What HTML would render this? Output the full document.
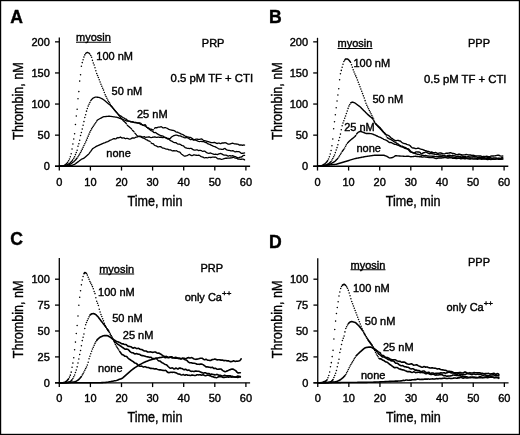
<!DOCTYPE html><html><head><meta charset="utf-8"><style>html,body{margin:0;padding:0;background:#fff;}svg{display:block;filter:grayscale(100%);}text{font-family:"Liberation Sans", sans-serif;fill:#000;stroke:#000;stroke-width:0.4px;}</style></head><body>
<svg width="520" height="435" viewBox="0 0 520 435">
<rect x="0" y="0" width="520" height="435" fill="#fff"/>
<rect x="0.6" y="0.6" width="518.8" height="433.8" fill="none" stroke="#000" stroke-width="1.2"/>
<g stroke="#000" stroke-width="1.3" fill="none">
<line x1="59.3" y1="37.5" x2="59.3" y2="166.25"/>
<line x1="55" y1="166.25" x2="250.1" y2="166.25"/>
<line x1="55" y1="166.25" x2="59.3" y2="166.25"/>
<text x="49.8" y="170.15" font-size="11" text-anchor="end" font-weight="normal" >0</text>
<line x1="55" y1="135.15" x2="59.3" y2="135.15"/>
<text x="49.8" y="139.05" font-size="11" text-anchor="end" font-weight="normal" >50</text>
<line x1="55" y1="104.05" x2="59.3" y2="104.05"/>
<text x="49.8" y="107.95" font-size="11" text-anchor="end" font-weight="normal" >100</text>
<line x1="55" y1="72.95" x2="59.3" y2="72.95"/>
<text x="49.8" y="76.85" font-size="11" text-anchor="end" font-weight="normal" >150</text>
<line x1="55" y1="41.85" x2="59.3" y2="41.85"/>
<text x="49.8" y="45.75" font-size="11" text-anchor="end" font-weight="normal" >200</text>
<line x1="59.3" y1="166.25" x2="59.3" y2="170.55"/>
<text x="59.3" y="185.65" font-size="11" text-anchor="middle" font-weight="normal" >0</text>
<line x1="90.4" y1="166.25" x2="90.4" y2="170.55"/>
<text x="90.4" y="185.65" font-size="11" text-anchor="middle" font-weight="normal" >10</text>
<line x1="121.5" y1="166.25" x2="121.5" y2="170.55"/>
<text x="121.5" y="185.65" font-size="11" text-anchor="middle" font-weight="normal" >20</text>
<line x1="152.6" y1="166.25" x2="152.6" y2="170.55"/>
<text x="152.6" y="185.65" font-size="11" text-anchor="middle" font-weight="normal" >30</text>
<line x1="183.7" y1="166.25" x2="183.7" y2="170.55"/>
<text x="183.7" y="185.65" font-size="11" text-anchor="middle" font-weight="normal" >40</text>
<line x1="214.8" y1="166.25" x2="214.8" y2="170.55"/>
<text x="214.8" y="185.65" font-size="11" text-anchor="middle" font-weight="normal" >50</text>
<line x1="245.9" y1="166.25" x2="245.9" y2="170.55"/>
<text x="245.9" y="185.65" font-size="11" text-anchor="middle" font-weight="normal" >60</text>
<text x="127.6" y="205.55" font-size="14.6" text-anchor="start" font-weight="normal" textLength="54.8" lengthAdjust="spacingAndGlyphs">Time, min</text>
<line x1="317.5" y1="37.8" x2="317.5" y2="166.25"/>
<line x1="313.2" y1="166.25" x2="508.3" y2="166.25"/>
<line x1="313.2" y1="166.25" x2="317.5" y2="166.25"/>
<text x="308" y="170.15" font-size="11" text-anchor="end" font-weight="normal" >0</text>
<line x1="313.2" y1="135.15" x2="317.5" y2="135.15"/>
<text x="308" y="139.05" font-size="11" text-anchor="end" font-weight="normal" >50</text>
<line x1="313.2" y1="104.05" x2="317.5" y2="104.05"/>
<text x="308" y="107.95" font-size="11" text-anchor="end" font-weight="normal" >100</text>
<line x1="313.2" y1="72.95" x2="317.5" y2="72.95"/>
<text x="308" y="76.85" font-size="11" text-anchor="end" font-weight="normal" >150</text>
<line x1="313.2" y1="41.85" x2="317.5" y2="41.85"/>
<text x="308" y="45.75" font-size="11" text-anchor="end" font-weight="normal" >200</text>
<line x1="317.5" y1="166.25" x2="317.5" y2="170.55"/>
<text x="317.5" y="185.65" font-size="11" text-anchor="middle" font-weight="normal" >0</text>
<line x1="348.6" y1="166.25" x2="348.6" y2="170.55"/>
<text x="348.6" y="185.65" font-size="11" text-anchor="middle" font-weight="normal" >10</text>
<line x1="379.7" y1="166.25" x2="379.7" y2="170.55"/>
<text x="379.7" y="185.65" font-size="11" text-anchor="middle" font-weight="normal" >20</text>
<line x1="410.8" y1="166.25" x2="410.8" y2="170.55"/>
<text x="410.8" y="185.65" font-size="11" text-anchor="middle" font-weight="normal" >30</text>
<line x1="441.9" y1="166.25" x2="441.9" y2="170.55"/>
<text x="441.9" y="185.65" font-size="11" text-anchor="middle" font-weight="normal" >40</text>
<line x1="473" y1="166.25" x2="473" y2="170.55"/>
<text x="473" y="185.65" font-size="11" text-anchor="middle" font-weight="normal" >50</text>
<line x1="504.1" y1="166.25" x2="504.1" y2="170.55"/>
<text x="504.1" y="185.65" font-size="11" text-anchor="middle" font-weight="normal" >60</text>
<text x="385.8" y="205.55" font-size="14.6" text-anchor="start" font-weight="normal" textLength="54.8" lengthAdjust="spacingAndGlyphs">Time, min</text>
<line x1="59.3" y1="258.1" x2="59.3" y2="382.8"/>
<line x1="55" y1="382.8" x2="250.1" y2="382.8"/>
<line x1="55" y1="382.8" x2="59.3" y2="382.8"/>
<text x="49.8" y="386.7" font-size="11" text-anchor="end" font-weight="normal" >0</text>
<line x1="55" y1="356.9" x2="59.3" y2="356.9"/>
<text x="49.8" y="360.8" font-size="11" text-anchor="end" font-weight="normal" >25</text>
<line x1="55" y1="331" x2="59.3" y2="331"/>
<text x="49.8" y="334.9" font-size="11" text-anchor="end" font-weight="normal" >50</text>
<line x1="55" y1="305.1" x2="59.3" y2="305.1"/>
<text x="49.8" y="309" font-size="11" text-anchor="end" font-weight="normal" >75</text>
<line x1="55" y1="279.2" x2="59.3" y2="279.2"/>
<text x="49.8" y="283.1" font-size="11" text-anchor="end" font-weight="normal" >100</text>
<line x1="59.3" y1="382.8" x2="59.3" y2="387.1"/>
<text x="59.3" y="402.2" font-size="11" text-anchor="middle" font-weight="normal" >0</text>
<line x1="90.4" y1="382.8" x2="90.4" y2="387.1"/>
<text x="90.4" y="402.2" font-size="11" text-anchor="middle" font-weight="normal" >10</text>
<line x1="121.5" y1="382.8" x2="121.5" y2="387.1"/>
<text x="121.5" y="402.2" font-size="11" text-anchor="middle" font-weight="normal" >20</text>
<line x1="152.6" y1="382.8" x2="152.6" y2="387.1"/>
<text x="152.6" y="402.2" font-size="11" text-anchor="middle" font-weight="normal" >30</text>
<line x1="183.7" y1="382.8" x2="183.7" y2="387.1"/>
<text x="183.7" y="402.2" font-size="11" text-anchor="middle" font-weight="normal" >40</text>
<line x1="214.8" y1="382.8" x2="214.8" y2="387.1"/>
<text x="214.8" y="402.2" font-size="11" text-anchor="middle" font-weight="normal" >50</text>
<line x1="245.9" y1="382.8" x2="245.9" y2="387.1"/>
<text x="245.9" y="402.2" font-size="11" text-anchor="middle" font-weight="normal" >60</text>
<text x="127.6" y="422.1" font-size="14.6" text-anchor="start" font-weight="normal" textLength="54.8" lengthAdjust="spacingAndGlyphs">Time, min</text>
<line x1="317.75" y1="258.2" x2="317.75" y2="382.8"/>
<line x1="313.45" y1="382.8" x2="508.55" y2="382.8"/>
<line x1="313.45" y1="382.8" x2="317.75" y2="382.8"/>
<text x="308.25" y="386.7" font-size="11" text-anchor="end" font-weight="normal" >0</text>
<line x1="313.45" y1="356.9" x2="317.75" y2="356.9"/>
<text x="308.25" y="360.8" font-size="11" text-anchor="end" font-weight="normal" >25</text>
<line x1="313.45" y1="331" x2="317.75" y2="331"/>
<text x="308.25" y="334.9" font-size="11" text-anchor="end" font-weight="normal" >50</text>
<line x1="313.45" y1="305.1" x2="317.75" y2="305.1"/>
<text x="308.25" y="309" font-size="11" text-anchor="end" font-weight="normal" >75</text>
<line x1="313.45" y1="279.2" x2="317.75" y2="279.2"/>
<text x="308.25" y="283.1" font-size="11" text-anchor="end" font-weight="normal" >100</text>
<line x1="317.75" y1="382.8" x2="317.75" y2="387.1"/>
<text x="317.75" y="402.2" font-size="11" text-anchor="middle" font-weight="normal" >0</text>
<line x1="348.85" y1="382.8" x2="348.85" y2="387.1"/>
<text x="348.85" y="402.2" font-size="11" text-anchor="middle" font-weight="normal" >10</text>
<line x1="379.95" y1="382.8" x2="379.95" y2="387.1"/>
<text x="379.95" y="402.2" font-size="11" text-anchor="middle" font-weight="normal" >20</text>
<line x1="411.05" y1="382.8" x2="411.05" y2="387.1"/>
<text x="411.05" y="402.2" font-size="11" text-anchor="middle" font-weight="normal" >30</text>
<line x1="442.15" y1="382.8" x2="442.15" y2="387.1"/>
<text x="442.15" y="402.2" font-size="11" text-anchor="middle" font-weight="normal" >40</text>
<line x1="473.25" y1="382.8" x2="473.25" y2="387.1"/>
<text x="473.25" y="402.2" font-size="11" text-anchor="middle" font-weight="normal" >50</text>
<line x1="504.35" y1="382.8" x2="504.35" y2="387.1"/>
<text x="504.35" y="402.2" font-size="11" text-anchor="middle" font-weight="normal" >60</text>
<text x="386.05" y="422.1" font-size="14.6" text-anchor="start" font-weight="normal" textLength="54.8" lengthAdjust="spacingAndGlyphs">Time, min</text>
</g>
<g stroke="#000" stroke-width="1.65" stroke-linecap="round" fill="none">
<path d="M59.3 166.25 60.15 166.22 61 166.18 61.85 166.15 62.7 166.11 63.55 165.74 64.4 165.19 65.25 164.63 66.1 163.96 66.95 163.19 67.8 162.03M85.65 53.55 86.5 52.73 87.35 52.32 88.2 52.75 89.05 53.17 89.9 54.18M111.15 105.57 112 106.68 112.85 107.8 113.7 108.92 114.55 110.04 115.4 111.1 116.25 112.13 117.1 113.16 117.95 114.19 118.8 115.25 119.65 116.31 120.5 117.36 121.35 118.42 122.2 119.44 123.05 120.44 123.9 121.19 124.75 121.95 125.6 122.73 126.45 123.83M127.3 125.26 128.15 126.05 129 126.63 129.85 127.48 130.7 128.07 131.55 128.98M132.4 130.24 133.25 130.94 134.1 131.89M134.95 133.23 135.8 134.09 136.65 135.14 137.5 136.06 138.35 136.44 139.2 136.6 140.05 136.61 140.9 136.96 141.75 137.48 142.6 137.79 143.45 138.15 144.3 138.44 145.15 138.93 146 139.51 146.85 139.77 147.7 140.37 148.55 140.96 149.4 141.06 150.25 141.67M151.1 142.9 151.95 143.52 152.8 143.55 153.65 144.1 154.5 145.27 155.35 145.7 156.2 145.79 157.05 146.43 157.9 146.92 158.75 146.85 159.6 146.71 160.45 146.6 161.3 147.11 162.15 147.86 163 148.08 163.85 148.21 164.7 148.51 165.55 148.95 166.4 149.16 167.25 149.05 168.1 149.36 168.95 149.82 169.8 149.81 170.65 149.9 171.5 150.5 172.35 150.9 173.2 150.76 174.05 150.74 174.9 150.93 175.75 150.8 176.6 150.77 177.45 151.33 178.3 151.77 179.15 151.89 180 152.25 180.85 153.36 181.7 154.23 182.55 154.82 183.4 155.46 184.25 156.03 185.1 156.15 185.95 155.87 186.8 155.65 187.65 155.32 188.5 154.78 189.35 154.44 190.2 154.75 191.05 155.41 191.9 155.71 192.75 155.39 193.6 154.9 194.45 154.92 195.3 155.18 196.15 155.23 197 155.37 197.85 155.46 198.7 155.23 199.55 155.41 200.4 156.07 201.25 156.57 202.1 156.83 202.95 157.1 203.8 157.56 204.65 157.8 205.5 157.59 206.35 157.65 207.2 157.89 208.05 157.67 208.9 157.33 209.75 157.41 210.6 157.51 211.45 157.34 212.3 157.18 213.15 157.11 214 157.23 214.85 157.14 215.7 157.14 216.55 157.81 217.4 158.58 218.25 158.82 219.1 158.74 219.95 158.78 220.8 159.13 221.65 159.34 222.5 159.17 223.35 158.95 224.2 158.58 225.05 158.34 225.9 158.16 226.75 158.23 227.6 158.19 228.45 158.04 229.3 158.09 230.15 157.99 231 157.96 231.85 157.83 232.7 157.43 233.55 157.22 234.4 157.72 235.25 158.15 236.1 158.05 236.95 158.31 237.8 159.02 238.65 159.2 239.5 159.18 240.35 159.31 241.2 159.23 242.05 159.15 242.9 159.09 243.75 159.36 244.6 159.9" stroke-width="1.3" stroke-linejoin="round"/>
<path d="M68.65 160.7h0M69.5 159h0M70.35 156.69h0M71.2 153.76h0M72.05 148.93h0M72.9 144.07h0M73.75 139.08h0M74.6 133.76h0M75.45 124.45h0M76.3 116h0M77.15 109.29h0M78 98.78h0M78.85 91.6h0M79.7 81.1h0M80.55 74.68h0M81.4 66.23h0M82.25 62.6h0M83.1 59.75h0M83.95 57.12h0M84.8 54.89h0M90.75 55.43h0M91.6 57.32h0M92.45 60.36h0M93.3 62.94h0M94.15 65.02h0M95 67.82h0M95.85 70.84h0M96.7 73.56h0M97.55 75.53h0M98.4 77.5h0M99.25 79.8h0M100.1 82.09h0M100.95 84.16h0M101.8 86.19h0M102.65 88.16h0M103.5 90.11h0M104.35 92.42h0M105.2 94.85h0M106.05 96.57h0M106.9 98.28h0M107.75 100h0M108.6 101.47h0M109.45 102.84h0M110.3 104.21h0" stroke-width="1.55"/>
<path d="M59.3 166.25 60.15 166.22 61 166.2 61.85 166.17 62.7 166.14 63.55 166.11 64.4 165.92 65.25 165.55 66.1 165.18 66.95 164.8 67.8 164.43 68.65 163.93 69.5 163.37 70.35 162.65 71.2 161.8 72.05 160.85 72.9 159.66M90.75 100.7 91.6 99.63 92.45 98.6 93.3 98.02 94.15 97.63 95 97.23 95.85 97.04 96.7 97.15 97.55 97.26 98.4 97.37 99.25 97.48 100.1 97.84 100.95 98.25 101.8 98.67 102.65 99.08 103.5 99.67 104.35 100.37 105.2 101.08 106.05 101.79 106.9 102.5 107.75 103.21 108.6 103.92 109.45 104.62 110.3 105.33 111.15 106.23 112 107.18 112.85 108.13 113.7 109.08 114.55 110.04 115.4 110.99 116.25 111.95 117.1 112.91 117.95 113.88 118.8 114.7 119.65 115.28 120.5 115.82 121.35 116.33 122.2 116.95 123.05 117.51 123.9 117.93 124.75 118.45 125.6 118.94 126.45 119.33 127.3 120.14 128.15 120.82 129 121.2 129.85 121.44 130.7 121.52 131.55 121.8 132.4 121.77 133.25 121.82 134.1 122.53 134.95 122.73 135.8 122.32 136.65 122.58 137.5 123.17 138.35 123.18 139.2 123.01 140.05 122.98 140.9 123.38 141.75 124.29 142.6 125.11 143.45 125.28 144.3 124.84 145.15 124.64 146 125.76M146.85 127.18 147.7 128.19 148.55 128.7 149.4 129.23 150.25 130.02 151.1 130.6 151.95 130.97 152.8 131.44 153.65 132.3 154.5 132.65 155.35 132.45 156.2 132.92 157.05 133.66 157.9 134.11 158.75 134.67 159.6 135.08 160.45 135.48 161.3 135.77 162.15 135.79 163 136.05 163.85 136.68 164.7 137.48 165.55 137.86 166.4 138.13 167.25 138.77 168.1 139.03 168.95 139.17 169.8 139.93 170.65 140.73 171.5 141.03 172.35 141.41 173.2 142.09 174.05 142.54 174.9 142.59 175.75 142.64 176.6 143.15 177.45 143.82 178.3 144.14 179.15 144.16 180 144.24 180.85 144.74 181.7 145.43 182.55 145.62 183.4 145.79 184.25 146.68 185.1 147.53 185.95 147.85 186.8 148.18 187.65 148.35 188.5 148.41 189.35 148.57 190.2 148.47 191.05 148.43 191.9 148.8 192.75 149.4 193.6 149.97 194.45 150.1 195.3 150.03 196.15 149.94 197 149.85 197.85 150.21 198.7 150.54 199.55 150.41 200.4 150.38 201.25 150.64 202.1 151.01 202.95 151.27 203.8 151.14 204.65 151.16 205.5 151.73 206.35 152.42 207.2 152.82 208.05 153.12 208.9 153.33 209.75 153.05 210.6 152.95 211.45 153.45 212.3 153.76 213.15 153.98 214 154.35 214.85 154.3 215.7 154.12 216.55 154.43 217.4 154.6 218.25 154.19 219.1 153.81 219.95 153.56 220.8 153.52 221.65 153.86 222.5 154.34 223.35 154.95 224.2 155.19 225.05 155.14 225.9 155.07 226.75 155.36 227.6 155.93 228.45 156.13 229.3 155.71 230.15 155.71 231 156.05 231.85 155.85 232.7 155.69 233.55 156.04 234.4 156.47 235.25 156.62 236.1 156.95 236.95 157.45 237.8 157.79 238.65 157.83 239.5 157.46 240.35 157.23 241.2 157.09 242.05 156.69 242.9 155.76 243.75 155.38 244.6 155.44" stroke-width="1.3" stroke-linejoin="round"/>
<path d="M73.75 158.28h0M74.6 156.66h0M75.45 154.62h0M76.3 152.54h0M77.15 150.3h0M78 146.31h0M78.85 143.84h0M79.7 140.25h0M80.55 135.56h0M81.4 132.5h0M82.25 128.9h0M83.1 125.29h0M83.95 121.6h0M84.8 117.4h0M85.65 114.75h0M86.5 111.13h0M87.35 108.4h0M88.2 106.1h0M89.05 104.26h0M89.9 102.46h0" stroke-width="1.55"/>
<path d="M59.3 166.25 60.15 166.22 61 166.2 61.85 166.17 62.7 166.14 63.55 166.11 64.4 166 65.25 165.78 66.1 165.56 66.95 165.35 67.8 165.13 68.65 164.91 69.5 164.52 70.35 164.11 71.2 163.7 72.05 163.03 72.9 162.35 73.75 161.66 74.6 160.85 75.45 160.05 76.3 159.02 77.15 157.98M96.7 121.2 97.55 119.97 98.4 119.49 99.25 119.02 100.1 118.54 100.95 118.06 101.8 117.59 102.65 117.11 103.5 116.77 104.35 116.68 105.2 116.59 106.05 116.51 106.9 116.42 107.75 116.33 108.6 116.24 109.45 116.26 110.3 116.37 111.15 116.48 112 116.59 112.85 116.7 113.7 116.81 114.55 116.92 115.4 117.03 116.25 117.14 117.1 117.35 117.95 117.65 118.8 117.96 119.65 118.27 120.5 118.64 121.35 118.96 122.2 119.21 123.05 119.57 123.9 119.91 124.75 120.07 125.6 120.3 126.45 120.84 127.3 121.16 128.15 121.09 129 121.09 129.85 121.43 130.7 121.8 131.55 121.91 132.4 122.09 133.25 122.35 134.1 122.36 134.95 122.3 135.8 122.6 136.65 122.96 137.5 122.94 138.35 122.93 139.2 123.31 140.05 123.98 140.9 124.58 141.75 124.72 142.6 124.86 143.45 125.37 144.3 125.77 145.15 125.88 146 126.55 146.85 127.43 147.7 127.61 148.55 127.88 149.4 128.59 150.25 129.14 151.1 129.25 151.95 129.46 152.8 129.9 153.65 129.83M154.5 128.36 155.35 127.59 156.2 127.77 157.05 127.74 157.9 127.19 158.75 127.03 159.6 127.11 160.45 126.83 161.3 126.72 162.15 127.32 163 127.97 163.85 127.93 164.7 127.55 165.55 127.58 166.4 128.01 167.25 128.31 168.1 128.84 168.95 129.33 169.8 129.66 170.65 129.83 171.5 130.06 172.35 130.24 173.2 130.4 174.05 130.67 174.9 131.07 175.75 131.81 176.6 132.05 177.45 132.15 178.3 132.67 179.15 132.98 180 133.37 180.85 133.89 181.7 134.13 182.55 134.48 183.4 134.88 184.25 135.43 185.1 136.03 185.95 136.34 186.8 136.71 187.65 136.86 188.5 137.05 189.35 137.34 190.2 137.42 191.05 137.71 191.9 138.25 192.75 138.88 193.6 139.61 194.45 139.74 195.3 139.3 196.15 139.04 197 139.12 197.85 139.24 198.7 139.28 199.55 139.34 200.4 139.21 201.25 138.96 202.1 139.11 202.95 139.9 203.8 140.58 204.65 140.7 205.5 140.87 206.35 141.08 207.2 141.38 208.05 141.68 208.9 141.76 209.75 142.09 210.6 142.49 211.45 142.59 212.3 142.59 213.15 142.61 214 142.49 214.85 142.48 215.7 142.92 216.55 143.44 217.4 143.52 218.25 143.13 219.1 143.19 219.95 143.48 220.8 143.57 221.65 143.13 222.5 142.89 223.35 143.01 224.2 142.89 225.05 142.65 225.9 142.78 226.75 143.33 227.6 143.93 228.45 144.23 229.3 144.08 230.15 144.01 231 143.58 231.85 143.33 232.7 143.2 233.55 143.51 234.4 143.95 235.25 143.96 236.1 143.99 236.95 144.18 237.8 144.14 238.65 144.58 239.5 145.16 240.35 145 241.2 144.92 242.05 145.27 242.9 145.25 243.75 144.96 244.6 145.04" stroke-width="1.3" stroke-linejoin="round"/>
<path d="M78 156.69h0M78.85 155.35h0M79.7 153.94h0M80.55 152.48h0M81.4 150.88h0M82.25 149.13h0M83.1 147.37h0M83.95 145.57h0M84.8 143.77h0M85.65 141.97h0M86.5 140.13h0M87.35 138.13h0M88.2 136.13h0M89.05 134.13h0M89.9 132.14h0M90.75 130.49h0M91.6 128.89h0M92.45 127.58h0M93.3 126.3h0M94.15 125.03h0M95 123.75h0M95.85 122.48h0" stroke-width="1.55"/>
<path d="M59.3 166.25 60.15 166.23 61 166.21 61.85 166.19 62.7 166.17 63.55 166.15 64.4 166.14 65.25 166.12 66.1 166.09 66.95 165.97 67.8 165.85 68.65 165.73 69.5 165.61 70.35 165.49 71.2 165.37 72.05 165.25 72.9 165.01 73.75 164.69 74.6 164.38 75.45 163.79 76.3 163.12 77.15 162.48 78 161.86 78.85 161.25 79.7 160.6 80.55 159.93 81.4 159.26 82.25 158.86 83.1 158.54 83.95 158.22 84.8 157.5 85.65 156.75 86.5 156 87.35 155.28 88.2 154.56 89.05 153.56 89.9 152.41 90.75 151.27 91.6 150.07 92.45 148.87 93.3 148.29 94.15 147.75 95 147.21 95.85 146.66 96.7 146.16 97.55 145.79 98.4 145.41 99.25 145.04 100.1 144.67 100.95 144.29 101.8 143.92 102.65 143.56 103.5 143.23 104.35 142.9 105.2 142.55 106.05 142.17 106.9 141.86 107.75 141.57 108.6 141.13 109.45 140.64 110.3 140.19 111.15 139.91 112 139.51 112.85 139 113.7 138.71 114.55 138.73 115.4 139 116.25 138.74 117.1 137.81 117.95 137.52 118.8 137.79 119.65 137.46 120.5 136.99 121.35 137.65 122.2 138.13 123.05 137.92 123.9 137.9 124.75 138.42 125.6 138.73 126.45 138.48 127.3 138.32 128.15 138.6 129 139.03 129.85 139.15 130.7 138.83 131.55 138.37 132.4 137.91 133.25 137.98 134.1 138.2 134.95 137.69 135.8 137.21 136.65 137.13 137.5 136.86 138.35 136.41 139.2 136.22 140.05 136.25 140.9 136.37 141.75 136.71 142.6 137.03 143.45 136.77 144.3 136.65 145.15 137.1 146 137.27 146.85 137.06 147.7 137.03 148.55 136.98 149.4 136.99 150.25 137.27 151.1 137.52 151.95 137.4 152.8 137.25 153.65 137.22 154.5 136.96 155.35 137.02 156.2 137.37 157.05 137.36 157.9 137.17 158.75 137.14 159.6 137.34 160.45 137.24 161.3 137.21 162.15 137.59 163 137.54 163.85 137.31 164.7 137.31 165.55 137.39 166.4 137.84 167.25 138.29 168.1 138.3 168.95 138.61 169.8 138.92 170.65 137.98 171.5 137.03 172.35 136.46 173.2 135.97 174.05 135.61 174.9 135.34 175.75 135.17 176.6 135.15 177.45 135.45 178.3 135.75 179.15 135.79 180 135.87 180.85 136.15 181.7 136.59 182.55 136.91 183.4 137.15 184.25 137.67 185.1 137.89 185.95 137.7 186.8 137.62 187.65 137.9 188.5 138.28 189.35 138.87 190.2 139.58 191.05 139.54 191.9 139.23 192.75 139.71 193.6 140.21 194.45 139.94 195.3 139.88 196.15 140.35 197 140.72 197.85 141.14 198.7 141.44 199.55 141.57 200.4 141.46 201.25 141.31 202.1 141.61 202.95 141.68 203.8 141.67 204.65 142.16 205.5 142.5 206.35 142.61 207.2 143.24 208.05 143.95 208.9 144.2 209.75 144.33 210.6 144.82 211.45 145.39 212.3 145.63 213.15 146.06 214 146.33 214.85 146.57 215.7 147.11 216.55 147.46 217.4 148.02 218.25 148.54 219.1 148.87 219.95 149.05 220.8 149.08 221.65 149.31 222.5 149.37 223.35 149.27 224.2 148.59 225.05 148.48 225.9 149.42 226.75 149.86 227.6 150.07 228.45 150.31 229.3 150.43 230.15 150.59 231 150.84 231.85 150.95 232.7 150.75 233.55 150.95 234.4 151.51 235.25 151.76 236.1 151.51 236.95 151.58 237.8 151.58 238.65 151.69 239.5 151.83 240.35 152.61 241.2 153.34 242.05 153.38 242.9 153.24 243.75 153.2 244.6 152.95" stroke-width="1.3" stroke-linejoin="round"/>
<path d="M317.5 166.25 318.35 166.21 319.2 166.18 320.05 166.14 320.9 166.1 321.75 165.68 322.6 165.2 323.45 164.72 324.3 164.22 325.15 163.51 326 162.8 326.85 161.78 327.7 160.6M344.7 60.17 345.55 59.02 346.4 58.84 347.25 58.96 348.1 59.43 348.95 60.07 349.8 61.22 350.65 62.36M375.3 123.28 376.15 124.08 377 124.89 377.85 125.69 378.7 126.49 379.55 127.29 380.4 128.12 381.25 129.16 382.1 130.21 382.95 131.25 383.8 132.22 384.65 133.1 385.5 133.97 386.35 134.53 387.2 134.96 388.05 135.29 388.9 135.76 389.75 136.58 390.6 137.44 391.45 138.09 392.3 138.55 393.15 139.27 394 139.86 394.85 140.26 395.7 140.75 396.55 140.57 397.4 140.35 398.25 140.42 399.1 140.73 399.95 140.96 400.8 141.41 401.65 142.27 402.5 142.82 403.35 143.18 404.2 143.5 405.05 143.62 405.9 143.84 406.75 144.29 407.6 144.63 408.45 144.81 409.3 145.06 410.15 145.7 411 146.78 411.85 147.56 412.7 147.99 413.55 148.04 414.4 148.15 415.25 148.49 416.1 148.61 416.95 148.4 417.8 148.1 418.65 148.19 419.5 148.61 420.35 148.93 421.2 149.22 422.05 149.36 422.9 149.56 423.75 150.01 424.6 150.4 425.45 150.58 426.3 150.82 427.15 151.23 428 151.5 428.85 151.55 429.7 151.97 430.55 152.21 431.4 152.06 432.25 152.23 433.1 152.58 433.95 152.73 434.8 152.62 435.65 152.5 436.5 152.84 437.35 153.38 438.2 153.46 439.05 153.15 439.9 153 440.75 153.05 441.6 153.22 442.45 153.45 443.3 153.65 444.15 153.82 445 153.65 445.85 153.28 446.7 153.23 447.55 153.22 448.4 153.12 449.25 152.94 450.1 152.78 450.95 152.78 451.8 153.15 452.65 153.53 453.5 153.56 454.35 153.58 455.2 154.04 456.05 154.48 456.9 154.64 457.75 154.49 458.6 154.24 459.45 154.25 460.3 154.44 461.15 154.65 462 154.76 462.85 154.85 463.7 154.87 464.55 154.89 465.4 154.71 466.25 154.54 467.1 154.64 467.95 154.87 468.8 155.02 469.65 154.98 470.5 155.03 471.35 155.32 472.2 155.4 473.05 155.25 473.9 155.35 474.75 155.6 475.6 155.86 476.45 155.96 477.3 155.84 478.15 155.91 479 156.01 479.85 155.92 480.7 155.94 481.55 156.38 482.4 156.6 483.25 156.35 484.1 156.43 484.95 156.65 485.8 156.39 486.65 156.19 487.5 156.33 488.35 156.67 489.2 156.68 490.05 156.45 490.9 156.19 491.75 155.99 492.6 156.04 493.45 156.04 494.3 155.9 495.15 155.76 496 155.59 496.85 155.35 497.7 155.22 498.55 155.25 499.4 155.49 500.25 155.85 501.1 156.13 501.95 156.13 502.8 156.05" stroke-width="1.4" stroke-linejoin="round"/>
<path d="M328.55 158.9h0M329.4 156.72h0M330.25 154.09h0M331.1 150.49h0M331.95 145.7h0M332.8 138.9h0M333.65 128.77h0M334.5 121.78h0M335.35 114.79h0M336.2 107.81h0M337.05 100.91h0M337.9 95.08h0M338.75 88.65h0M339.6 79.67h0M340.45 73.65h0M341.3 70.38h0M342.15 67.25h0M343 64.26h0M343.85 61.42h0M351.5 64.75h0M352.35 67.3h0M353.2 69.85h0M354.05 71.9h0M354.9 73.92h0M355.75 75.89h0M356.6 77.83h0M357.45 79.93h0M358.3 82.17h0M359.15 84.43h0M360 86.72h0M360.85 89.02h0M361.7 91.32h0M362.55 93.61h0M363.4 95.86h0M364.25 98.09h0M365.1 100.64h0M365.95 103.31h0M366.8 105.34h0M367.65 107.03h0M368.5 108.71h0M369.35 110.4h0M370.2 112.11h0M371.05 113.83h0M371.9 115.54h0M372.75 117.25h0M373.6 118.95h0M374.45 121.35h0" stroke-width="1.55"/>
<path d="M317.5 166.25 318.35 166.22 319.2 166.19 320.05 166.16 320.9 166.14 321.75 166.11 322.6 165.92 323.45 165.68 324.3 165.43 325.15 165.18 326 164.93 326.85 164.67 327.7 164.16 328.55 163.65 329.4 163.11 330.25 162.3 331.1 161.49M350.65 102.92 351.5 102.5 352.35 102.07 353.2 102.28 354.05 102.62 354.9 102.96 355.75 103.56 356.6 104.2 357.45 104.84 358.3 105.48 359.15 106.11 360 106.75 360.85 107.6 361.7 108.45 362.55 109.3 363.4 110.15 364.25 111 365.1 111.85 365.95 112.7 366.8 113.55 367.65 114.38 368.5 115.12 369.35 115.86 370.2 116.6 371.05 117.34 371.9 118.08 372.75 119.07M375.3 123.61 376.15 124.5 377 125.38 377.85 126.26 378.7 127.15 379.55 128.03 380.4 128.94 381.25 129.86 382.1 130.79 382.95 131.71 383.8 132.65 384.65 133.61 385.5 134.56M387.2 137.57 388.05 138.16 388.9 138.65 389.75 139.01 390.6 139.44 391.45 139.82 392.3 140.27 393.15 140.95 394 141.65 394.85 142.06 395.7 142.48 396.55 143.12 397.4 143.63 398.25 144.08 399.1 144.77 399.95 145.37 400.8 145.87 401.65 146.17 402.5 146.27 403.35 146.74 404.2 147.29 405.05 147.51 405.9 147.85 406.75 148.4 407.6 148.73 408.45 148.85 409.3 149.64 410.15 150.87 411 151.63 411.85 152.04 412.7 152.72 413.55 153.1 414.4 152.95 415.25 152.42 416.1 151.89 416.95 151.88 417.8 151.97 418.65 151.97 419.5 152.09 420.35 152.8 421.2 153.91 422.05 153.76 422.9 153.01 423.75 152.77 424.6 152.56 425.45 151.95 426.3 152.16 427.15 152.62 428 153.02 428.85 153.47 429.7 153.7 430.55 153.65 431.4 153.61 432.25 153.72 433.1 153.85 433.95 153.99 434.8 154.2 435.65 154.36 436.5 154.64 437.35 154.66 438.2 154.54 439.05 154.84 439.9 155.04 440.75 155.04 441.6 155.1 442.45 155.27 443.3 155.43 444.15 155.47 445 155.76 445.85 156.09 446.7 155.9 447.55 155.55 448.4 155.39 449.25 155.27 450.1 155.42 450.95 155.85 451.8 155.81 452.65 155.49 453.5 155.62 454.35 155.82 455.2 155.88 456.05 156.22 456.9 156.43 457.75 156.25 458.6 156.22 459.45 156.4 460.3 156.29 461.15 156.06 462 156.03 462.85 156.23 463.7 156.54 464.55 156.65 465.4 156.74 466.25 156.96 467.1 156.9 467.95 156.58 468.8 156.66 469.65 157.02 470.5 157.02 471.35 156.88 472.2 156.84 473.05 156.67 473.9 156.53 474.75 156.59 475.6 156.75 476.45 156.89 477.3 157.2 478.15 157.35 479 157.16 479.85 157.29 480.7 157.56 481.55 157.51 482.4 157.51 483.25 157.45 484.1 157.39 484.95 157.69 485.8 157.89 486.65 157.93 487.5 157.8 488.35 157.41 489.2 157.25 490.05 157.44 490.9 157.85 491.75 158.24 492.6 158.25 493.45 158.01 494.3 158.02 495.15 158.03 496 158.01 496.85 158.26 497.7 158.37 498.55 158.29 499.4 158.3 500.25 158.25 501.1 158.03 501.95 157.77 502.8 157.65" stroke-width="1.4" stroke-linejoin="round"/>
<path d="M331.95 160.01h0M332.8 158.42h0M333.65 156.79h0M334.5 154.9h0M335.35 152.62h0M336.2 150h0M337.05 147.62h0M337.9 144.71h0M338.75 140.43h0M339.6 137.54h0M340.45 134.12h0M341.3 129.83h0M342.15 125.81h0M343 123.04h0M343.85 120.66h0M344.7 118.28h0M345.55 115.9h0M346.4 113.42h0M347.25 110.9h0M348.1 108.38h0M348.95 106.1h0M349.8 104.4h0M373.6 120.67h0M374.45 122.27h0M386.35 135.96h0" stroke-width="1.55"/>
<path d="M317.5 166.25 318.35 166.23 319.2 166.2 320.05 166.18 320.9 166.16 321.75 166.13 322.6 166.11 323.45 165.99 324.3 165.8 325.15 165.6 326 165.4 326.85 165.2 327.7 165 328.55 164.8 329.4 164.49 330.25 164.05 331.1 163.61 331.95 163.17 332.8 162.66 333.65 162.15 334.5 161.64 335.35 160.93 336.2 160.06 337.05 159.18 337.9 158.25M342.15 151.48 343 150.37 343.85 149.28M347.25 143.35 348.1 142.4 348.95 141.55 349.8 140.7 350.65 140 351.5 139.31 352.35 138.62 353.2 137.93 354.05 137.22 354.9 136.5 355.75 135.54M356.6 133.98 357.45 133.05 358.3 132.2 359.15 131.85 360 131.5 360.85 131.43 361.7 131.73 362.55 132.04 363.4 132.37 364.25 132.74 365.1 133.11 365.95 133.48 366.8 133.52 367.65 133.53 368.5 133.55 369.35 133.56 370.2 133.58 371.05 133.6 371.9 133.84 372.75 134.16 373.6 134.48 374.45 134.79 375.3 135.15 376.15 135.58 377 136 377.85 136.43 378.7 136.78 379.55 137.11 380.4 137.47 381.25 137.86 382.1 138.26 382.95 138.74 383.8 139.31 384.65 139.66 385.5 139.86 386.35 140.27 387.2 140.81 388.05 141.41 388.9 142.2 389.75 142.62 390.6 142.5 391.45 142.69 392.3 143.15 393.15 143.52 394 143.99 394.85 144.35 395.7 144.39 396.55 144.71 397.4 145.17 398.25 145.3 399.1 145.56 399.95 146.12 400.8 146.56 401.65 146.89 402.5 147.1 403.35 147.35 404.2 147.87 405.05 148.37 405.9 148.62 406.75 148.77 407.6 149.16 408.45 149.79 409.3 150.82 410.15 151.79 411 152.11 411.85 152.38 412.7 152.5 413.55 152.82 414.4 153.14 415.25 153.53 416.1 153.85 416.95 154.05 417.8 154.3 418.65 154.38 419.5 154.64 420.35 154.93 421.2 155.09 422.05 155.3 422.9 155.43 423.75 155.56 424.6 155.59 425.45 155.44 426.3 155.66 427.15 155.91 428 155.95 428.85 156.09 429.7 156.14 430.55 156.16 431.4 156.17 432.25 156.26 433.1 156.31 433.95 156.29 434.8 156.49 435.65 156.6 436.5 156.62 437.35 156.6 438.2 156.55 439.05 156.47 439.9 156.51 440.75 156.55 441.6 156.52 442.45 156.79 443.3 156.95 444.15 156.85 445 156.92 445.85 156.96 446.7 156.84 447.55 156.68 448.4 156.65 449.25 156.71 450.1 156.93 450.95 157.17 451.8 157.05 452.65 156.94 453.5 157.14 454.35 157.33 455.2 157.31 456.05 157.2 456.9 157.1 457.75 157.01 458.6 156.98 459.45 157.06 460.3 157.35 461.15 157.65 462 157.54 462.85 157.35 463.7 157.39 464.55 157.47 465.4 157.64 466.25 157.86 467.1 157.94 467.95 157.93 468.8 157.96 469.65 158.04 470.5 158.24 471.35 158.12 472.2 157.93 473.05 158.09 473.9 158.07 474.75 157.94 475.6 158.09 476.45 158.26 477.3 158.25 478.15 158.36 479 158.47 479.85 158.47 480.7 158.3 481.55 158.33 482.4 158.71 483.25 158.68 484.1 158.57 484.95 158.91 485.8 158.92 486.65 158.44 487.5 158.32 488.35 158.5 489.2 158.6 490.05 158.75 490.9 158.87 491.75 158.91 492.6 158.98 493.45 159.08 494.3 159.11 495.15 158.99 496 158.83 496.85 158.61 497.7 158.41 498.55 158.55 499.4 158.8 500.25 158.71 501.1 158.61 501.95 158.7 502.8 158.85" stroke-width="1.4" stroke-linejoin="round"/>
<path d="M338.75 156.97h0M339.6 155.7h0M340.45 154.34h0M341.3 152.91h0M344.7 147.92h0M345.55 146.28h0M346.4 144.77h0" stroke-width="1.55"/>
<path d="M317.5 166.25 318.35 166.15 319.2 166.04 320.05 165.94 320.9 165.83 321.75 165.73 322.6 165.62 323.45 165.54 324.3 165.45 325.15 165.37 326 165.29 326.85 165.21 327.7 165.12 328.55 165.04 329.4 164.96 330.25 164.88 331.1 164.79 331.95 164.71 332.8 164.63 333.65 164.55 334.5 164.46 335.35 164.38 336.2 164.3 337.05 164.04 337.9 163.79 338.75 163.53 339.6 163.27 340.45 163.02 341.3 162.76 342.15 162.5 343 162.25 343.85 161.99 344.7 161.73 345.55 161.48 346.4 161.22 347.25 160.97 348.1 160.71 348.95 160.46 349.8 160.2 350.65 159.95 351.5 159.7 352.35 159.44 353.2 159.19 354.05 158.93 354.9 158.68 355.75 158.45 356.6 158.28 357.45 158.11 358.3 157.95 359.15 157.78 360 157.61 360.85 157.44 361.7 157.27 362.55 157.1 363.4 156.94 364.25 156.77 365.1 156.6 365.95 156.48 366.8 156.35 367.65 156.23 368.5 156.1 369.35 155.98 370.2 155.86 371.05 155.73 371.9 155.61 372.75 155.48 373.6 155.36 374.45 155.24 375.3 155.22 376.15 155.24 377 155.27 377.85 155.3 378.7 155.3 379.55 155.3 380.4 155.3 381.25 155.3 382.1 155.3 382.95 155.3 383.8 155.3 384.65 155.48 385.5 155.82 386.35 156.16 387.2 156.5 388.05 157.05 388.9 157.61 389.75 157.97 390.6 157.86 391.45 157.75 392.3 157.64 393.15 157.26 394 156.74 394.85 156.22 395.7 155.7 396.55 155.76 397.4 155.83 398.25 155.89 399.1 155.96 399.95 156.02 400.8 156.1 401.65 156.17 402.5 156.16 403.35 156.2 404.2 156.3 405.05 156.33 405.9 156.38 406.75 156.3 407.6 156.22 408.45 156.28 409.3 156.38 410.15 156.6 411 156.7 411.85 156.66 412.7 156.61 413.55 156.45 414.4 156.36 415.25 156.27 416.1 156.32 416.95 156.45 417.8 156.48 418.65 156.68 419.5 156.81 420.35 156.74 421.2 156.76 422.05 157.03 422.9 157.09 423.75 156.89 424.6 156.85 425.45 157 426.3 157.09 427.15 157.18 428 157.37 428.85 157.48 429.7 157.46 430.55 157.44 431.4 157.51 432.25 157.6 433.1 157.63 433.95 157.87 434.8 158.21 435.65 158.44 436.5 158.49 437.35 158.3 438.2 158.04 439.05 157.91 439.9 157.97 440.75 158.07 441.6 158 442.45 157.88 443.3 157.73 444.15 157.59 445 157.51 445.85 157.59 446.7 157.8 447.55 157.95 448.4 157.96 449.25 157.8 450.1 157.68 450.95 157.7 451.8 157.95 452.65 158.27 453.5 158.32 454.35 158.24 455.2 158.33 456.05 158.53 456.9 158.55 457.75 158.33 458.6 158.23 459.45 158.4 460.3 158.69 461.15 158.71 462 158.51 462.85 158.45 463.7 158.58 464.55 158.77 465.4 158.8 466.25 158.65 467.1 158.58 467.95 158.73 468.8 158.94 469.65 159.02 470.5 158.98 471.35 158.88 472.2 158.9 473.05 159.05 473.9 159.09 474.75 158.93 475.6 158.9 476.45 159.15 477.3 159.26 478.15 159.09 479 158.91 479.85 158.87 480.7 159.08 481.55 159.24 482.4 159.14 483.25 159.1 484.1 159.12 484.95 159 485.8 158.98 486.65 159.22 487.5 159.48 488.35 159.43 489.2 159.29 490.05 159.4 490.9 159.48 491.75 159.36 492.6 159.2 493.45 159.18 494.3 159.33 495.15 159.31 496 159.09 496.85 158.94 497.7 159.05 498.55 159.32 499.4 159.4 500.25 159.26 501.1 159.23 501.95 159.16 502.8 158.95" stroke-width="1.4" stroke-linejoin="round"/>
<path d="M59.3 382.8 60.15 382.78 61 382.75 61.85 382.73 62.7 382.71 63.55 382.52 64.4 382.23 65.25 381.95 66.1 381.59 66.95 380.68 67.8 379.73 68.65 378.76M83.95 273.72 84.8 272.53 85.65 272.72 86.5 273.5M107.75 330.02 108.6 331.14M119.65 351.37 120.5 352.53 121.35 353.73 122.2 354.61 123.05 354.78 123.9 355.38 124.75 356.21 125.6 356.29 126.45 356.45 127.3 357.21 128.15 358.26 129 359.03 129.85 359.4 130.7 360.02 131.55 360.7 132.4 361.05 133.25 361.65 134.1 362.56 134.95 363.05 135.8 363.2 136.65 363.64 137.5 364.6 138.35 365.34 139.2 365.91 140.05 366.27 140.9 366.19 141.75 366.08 142.6 366.63 143.45 367.09 144.3 366.78 145.15 366.67 146 367.11 146.85 367.46 147.7 367.53 148.55 367.51 149.4 367.97 150.25 368.41 151.1 368.38 151.95 368.45 152.8 368.43 153.65 368.61 154.5 369.02 155.35 368.87 156.2 368.74 157.05 369.13 157.9 369.48 158.75 369.67 159.6 369.85 160.45 369.81 161.3 369.96 162.15 370.24 163 370.38 163.85 370.54 164.7 370.45 165.55 370.37 166.4 370.95 167.25 371.97 168.1 372.5 168.95 372.63 169.8 372.53 170.65 372.21 171.5 372.18 172.35 372.36 173.2 372.23 174.05 372.19 174.9 372.44 175.75 372.75 176.6 373.11 177.45 373.57 178.3 374.06 179.15 374.16 180 374.31 180.85 374.72 181.7 375.05 182.55 374.83 183.4 374.5 184.25 374.88 185.1 375.19 185.95 374.8 186.8 374.82 187.65 375.22 188.5 375.19 189.35 375.29 190.2 375.57 191.05 375.36 191.9 375.09 192.75 375.11 193.6 375.32 194.45 375.46 195.3 375.42 196.15 375.24 197 374.79 197.85 374.72 198.7 375 199.55 374.72 200.4 374.81 201.25 375.17 202.1 374.98 202.95 374.79 203.8 375.07 204.65 375.58 205.5 375.75 206.35 375.53 207.2 375.1 208.05 374.97 208.9 375.39 209.75 375.61 210.6 375.86 211.45 376.4 212.3 376.63 213.15 376.83 214 377.19 214.85 377.37 215.7 377.56 216.55 377.72 217.4 377.37 218.25 376.85 219.1 376.68 219.95 376.75 220.8 376.7 221.65 376.76 222.5 377.18 223.35 377.49 224.2 377.36 225.05 377.26 225.9 377.25 226.75 376.94 227.6 376.89 228.45 377.13 229.3 377 230.15 376.73 231 376.94 231.85 377.13 232.7 377.01 233.55 376.87 234.4 376.89 235.25 377.29 236.1 377.29 236.95 377.14 237.8 377.49 238.65 377.29 239.5 376.63 240.35 376.46" stroke-width="1.6" stroke-linejoin="round"/>
<path d="M69.5 377.1h0M70.35 375.14h0M71.2 372.13h0M72.05 367.28h0M72.9 363.1h0M73.75 357.83h0M74.6 349.7h0M75.45 342.1h0M76.3 333.5h0M77.15 325.51h0M78 316h0M78.85 305.17h0M79.7 297.2h0M80.55 290.68h0M81.4 284.86h0M82.25 280.08h0M83.1 276.5h0M87.35 275.12h0M88.2 277.25h0M89.05 279.35h0M89.9 281.4h0M90.75 283.1h0M91.6 284.8h0M92.45 286.61h0M93.3 288.71h0M94.15 291.45h0M95 293.62h0M95.85 297.74h0M96.7 301.26h0M97.55 303.23h0M98.4 305.4h0M99.25 309.34h0M100.1 311.94h0M100.95 314.56h0M101.8 316.58h0M102.65 318.65h0M103.5 320.87h0M104.35 323.2h0M105.2 325.63h0M106.05 327.32h0M106.9 328.78h0M109.45 332.5h0M110.3 334.2h0M111.15 335.87h0M112 337.53h0M112.85 339.23h0M113.7 341.02h0M114.55 342.8h0M115.4 344.44h0M116.25 345.95h0M117.1 347.38h0M117.95 348.63h0M118.8 350.04h0" stroke-width="1.55"/>
<path d="M59.3 382.8 60.15 382.79 61 382.77 61.85 382.76 62.7 382.75 63.55 382.74 64.4 382.72 65.25 382.71 66.1 382.68 66.95 382.48 67.8 382.28 68.65 382.08 69.5 381.89 70.35 381.65 71.2 380.8 72.05 379.76M89.9 315.13 90.75 314.5 91.6 313.87 92.45 313.71 93.3 313.61 94.15 313.85 95 314.13 95.85 314.65 96.7 315.5 97.55 316.35 98.4 317.33 99.25 318.47 100.1 319.58 100.95 320.65 101.8 321.73 102.65 322.87 103.5 324 104.35 325.07 105.2 326.15 106.05 327.37M106.9 328.65 107.75 329.82 108.6 330.94M114.55 341.54 115.4 342.28 116.25 343 117.1 343.67 117.95 344.29 118.8 344.84 119.65 345.44 120.5 346.06 121.35 346.54 122.2 347.25 123.05 347.79 123.9 348.33 124.75 349 125.6 349.17 126.45 349.11 127.3 349.29 128.15 349.56 129 350.32 129.85 351.43 130.7 352.12 131.55 352.61 132.4 352.74 133.25 352.87 134.1 353.57 134.95 353.95 135.8 353.68 136.65 353.58 137.5 353.9 138.35 354.12 139.2 354.27 140.05 354.55 140.9 355.27 141.75 355.61 142.6 355.46 143.45 355.7 144.3 355.96 145.15 356.23 146 356.59 146.85 356.76 147.7 356.83 148.55 356.99 149.4 357.38 150.25 357.25 151.1 357.3 151.95 358.11 152.8 358.51 153.65 358.61 154.5 358.66 155.35 358.41 156.2 358.26 157.05 359.15M157.9 360.39 158.75 360.93 159.6 360.93 160.45 361.34 161.3 362.18 162.15 362.72 163 363.03 163.85 363.64 164.7 364.16 165.55 364.51 166.4 364.77 167.25 365.43 168.1 366.48 168.95 367.24 169.8 367.97 170.65 368.32 171.5 368.07 172.35 367.86 173.2 368.41 174.05 369 174.9 368.75 175.75 368.12 176.6 368.28 177.45 368.94 178.3 368.86 179.15 368.12 180 367.92 180.85 368.47 181.7 368.58 182.55 368.81 183.4 369.48 184.25 369.66 185.1 369.37 185.95 369.42 186.8 370.02 187.65 370.37 188.5 370.09 189.35 370.2 190.2 371 191.05 371.38 191.9 371.2 192.75 371.26 193.6 371.48 194.45 371.36 195.3 371.1 196.15 371.11 197 371.2 197.85 371.19 198.7 371.31 199.55 371.55 200.4 371.93 201.25 372.36 202.1 372.62 202.95 373.07 203.8 373.14 204.65 372.71 205.5 372.72 206.35 373.17 207.2 373.46 208.05 373.46 208.9 373.47 209.75 373.93 210.6 374.28 211.45 374.1 212.3 374.18 213.15 374.49 214 374.63 214.85 374.92 215.7 374.81 216.55 374.42 217.4 374.55 218.25 374.94 219.1 375.38 219.95 375.36 220.8 375.29 221.65 375.86 222.5 376.02 223.35 375.76 224.2 375.42 225.05 375.37 225.9 375.74 226.75 375.72 227.6 375.69 228.45 375.83 229.3 375.68 230.15 375.75 231 376.23 231.85 376.31 232.7 376.33 233.55 376.79 234.4 377.02 235.25 377.04 236.1 376.9 236.95 376.37 237.8 376.01 238.65 376.23 239.5 376.65 240.35 376.93" stroke-width="1.6" stroke-linejoin="round"/>
<path d="M72.9 378.45h0M73.75 376.8h0M74.6 374.92h0M75.45 372.52h0M76.3 369.9h0M77.15 366.86h0M78 363h0M78.85 358.95h0M79.7 354.45h0M80.55 350.5h0M81.4 345.74h0M82.25 340.62h0M83.1 337.32h0M83.95 334.01h0M84.8 328.48h0M85.65 324.78h0M86.5 322.54h0M87.35 320.41h0M88.2 318.75h0M89.05 316.86h0M109.45 332.27h0M110.3 333.9h0M111.15 335.53h0M112 337.08h0M112.85 338.58h0M113.7 340.09h0" stroke-width="1.55"/>
<path d="M59.3 382.8 60.15 382.79 61 382.78 61.85 382.77 62.7 382.76 63.55 382.75 64.4 382.74 65.25 382.73 66.1 382.72 66.95 382.71 67.8 382.7 68.65 382.62 69.5 382.52 70.35 382.43 71.2 382.33 72.05 382.23 72.9 382.13 73.75 382.03 74.6 381.78 75.45 381.46 76.3 381.15 77.15 380.67 78 380.04 78.85 379.41 79.7 378.51 80.55 377.55 81.4 376.53M96.7 340.46 97.55 339.29 98.4 338.56 99.25 337.84 100.1 337.16 100.95 336.79 101.8 336.43 102.65 336.07 103.5 335.71 104.35 335.6 105.2 335.6 106.05 335.6 106.9 335.6 107.75 335.74 108.6 336.22 109.45 336.69 110.3 337.24 111.15 337.92 112 338.6 112.85 339.21 113.7 339.72 114.55 340.23 115.4 340.74 116.25 341.24 117.1 341.57 117.95 341.81 118.8 342.14 119.65 342.52 120.5 342.93 121.35 343.65 122.2 343.84 123.05 343.76 123.9 344.2 124.75 344.54 125.6 344.44 126.45 344.79 127.3 345.68 128.15 346.25 129 346.36 129.85 346.49 130.7 346.69 131.55 347.04 132.4 347.77 133.25 348.16 134.1 347.81 134.95 347.6 135.8 348.09 136.65 348.59 137.5 348.42 138.35 348.22 139.2 348.61 140.05 349.25 140.9 349.44 141.75 349.47 142.6 349.93 143.45 350.55 144.3 350.99 145.15 351.03 146 351.03 146.85 351.5 147.7 351.96 148.55 352.02 149.4 351.93 150.25 351.8 151.1 351.92 151.95 352.21 152.8 352.34 153.65 352.31 154.5 352.05 155.35 351.99 156.2 352.45 157.05 353.02 157.9 353.19 158.75 353.06 159.6 353.44 160.45 354.05 161.3 354.41 162.15 355.14 163 355.72 163.85 356.09 164.7 356.66 165.55 356.52 166.4 356.36 167.25 356.83 168.1 357.18 168.95 357.52 169.8 357.52 170.65 356.99 171.5 356.72 172.35 357.06 173.2 357.8 174.05 357.96 174.9 357.46 175.75 357.28 176.6 357.71 177.45 358.24 178.3 358.5 179.15 358.69 180 358.8 180.85 358.91 181.7 358.74 182.55 358.26 183.4 358.49 184.25 359.36 185.1 359.67 185.95 359.92 186.8 360.4 187.65 361.2 188.5 362.07 189.35 362.6 190.2 362.8 191.05 362.79 191.9 362.91 192.75 363.15 193.6 363.18 194.45 363.32 195.3 363.53 196.15 363.78 197 364.2 197.85 364.29 198.7 364.24 199.55 364.34 200.4 364.12 201.25 363.93 202.1 364.16 202.95 364.59 203.8 365.22 204.65 365.73 205.5 366.53 206.35 367.04 207.2 366.84 208.05 366.94 208.9 367.14 209.75 367.32 210.6 367.6 211.45 367.44 212.3 367.27 213.15 367.83 214 368.51 214.85 368.37 215.7 368.37 216.55 368.97 217.4 369.29 218.25 369.23 219.1 369.1 219.95 368.99 220.8 369.01 221.65 369.52 222.5 370.4 223.35 370.95 224.2 371.32 225.05 371.69 225.9 371.45 226.75 371.05 227.6 370.85 228.45 370.34 229.3 369.9 230.15 369.74 231 369.25 231.85 369.15 232.7 369.05 233.55 369.29 234.4 369.93 235.25 370.43 236.1 370.99 236.95 372.18 237.8 372.85 238.65 372.92 239.5 372.75 240.35 372.8" stroke-width="1.6" stroke-linejoin="round"/>
<path d="M82.25 375.09h0M83.1 373.64h0M83.95 372h0M84.8 370.3h0M85.65 368.62h0M86.5 366.97h0M87.35 364.92h0M88.2 362.31h0M89.05 358.78h0M89.9 356.26h0M90.75 353.82h0M91.6 351.2h0M92.45 349.07h0M93.3 347.3h0M94.15 345.35h0M95 343.39h0M95.85 341.82h0" stroke-width="1.55"/>
<path d="M59.3 382.8 60.15 382.8 61 382.8 61.85 382.8 62.7 382.8 63.55 382.8 64.4 382.8 65.25 382.8 66.1 382.8 66.95 382.8 67.8 382.8 68.65 382.8 69.5 382.8 70.35 382.8 71.2 382.8 72.05 382.8 72.9 382.8 73.75 382.8 74.6 382.8 75.45 382.8 76.3 382.8 77.15 382.8 78 382.8 78.85 382.8 79.7 382.8 80.55 382.8 81.4 382.8 82.25 382.8 83.1 382.8 83.95 382.8 84.8 382.8 85.65 382.8 86.5 382.8 87.35 382.8 88.2 382.8 89.05 382.8 89.9 382.8 90.75 382.8 91.6 382.8 92.45 382.8 93.3 382.8 94.15 382.8 95 382.8 95.85 382.8 96.7 382.8 97.55 382.8 98.4 382.8 99.25 382.8 100.1 382.79 100.95 382.73 101.8 382.67 102.65 382.61 103.5 382.55 104.35 382.49 105.2 382.43 106.05 382.37 106.9 382.31 107.75 382.17 108.6 382 109.45 381.83 110.3 381.67 111.15 381.5 112 381.33 112.85 381.16 113.7 380.99 114.55 380.83 115.4 380.66 116.25 380.49 117.1 380.25 117.95 379.93 118.8 379.6 119.65 379.28 120.5 378.96 121.35 378.64 122.2 378.31 123.05 377.7 123.9 376.92 124.75 376.14 125.6 375.37 126.45 374.61 127.3 373.86 128.15 373.12 129 372.38 129.85 371.63 130.7 370.92 131.55 370.21 132.4 369.5 133.25 368.83 134.1 368.27 134.95 367.7 135.8 367.13 136.65 366.57 137.5 366 138.35 365.52 139.2 365.05 140.05 364.57 140.9 364.1 141.75 363.62 142.6 363.14 143.45 362.67 144.3 362.28 145.15 361.94 146 361.6 146.85 361.26 147.7 360.92 148.55 360.58 149.4 360.24 150.25 359.93 151.1 359.7 151.95 359.47 152.8 359.24 153.65 359.01 154.5 358.78 155.35 358.54 156.2 358.31 157.05 358.13 157.9 357.96 158.75 357.78 159.6 357.6 160.45 357.44 161.3 357.36 162.15 357.25 163 357.02 163.85 357.01 164.7 357.46 165.55 357.64 166.4 357.34 167.25 357.47 168.1 357.69 168.95 357.43 169.8 357.02 170.65 357.16 171.5 357.66 172.35 357.87 173.2 357.75 174.05 357.74 174.9 358.12 175.75 358.22 176.6 358.14 177.45 358.15 178.3 357.98 179.15 357.99 180 358.34 180.85 358.73 181.7 358.63 182.55 358.28 183.4 358.19 184.25 358.22 185.1 358.53 185.95 358.71 186.8 358.23 187.65 357.69 188.5 357.64 189.35 357.86 190.2 357.95 191.05 357.75 191.9 357.64 192.75 358.1 193.6 358.75 194.45 359.04 195.3 359.25 196.15 359.34 197 359.12 197.85 358.96 198.7 358.73 199.55 358.45 200.4 358.26 201.25 358.24 202.1 358.3 202.95 358.79 203.8 359.5 204.65 359.73 205.5 359.39 206.35 359.33 207.2 359.91 208.05 360.24 208.9 360.3 209.75 360.54 210.6 360.5 211.45 359.99 212.3 359.59 213.15 359.52 214 359.28 214.85 359.01 215.7 359.26 216.55 359.78 217.4 359.87 218.25 359.74 219.1 359.74 219.95 359.85 220.8 360.15 221.65 360.13 222.5 360.08 223.35 360.38 224.2 360.65 225.05 360.46 225.9 360.43 226.75 360.89 227.6 360.89 228.45 360.77 229.3 361.19 230.15 361.58 231 361.63 231.85 361.49 232.7 361.15 233.55 360.85 234.4 361.1 235.25 361.5 236.1 361.24 236.95 361.15 237.8 361.19 238.65 361.02 239.5 360.84 240.35 360.02 241.2 358.82" stroke-width="1.6" stroke-linejoin="round"/>
<path d="M317.75 382.8 318.6 382.77 319.45 382.75 320.3 382.72 321.15 382.65 322 382.4 322.85 382.14 323.7 381.88 324.55 381.64 325.4 381.39 326.25 380.75 327.1 379.77M342.4 285.23 343.25 284.64 344.1 284.3 344.95 284.73 345.8 285.48M367.9 339.83 368.75 340.94 369.6 342 370.45 343.06 371.3 344.13 372.15 345.3M378.95 358.41 379.8 358.86 380.65 358.77 381.5 359.18 382.35 359.94 383.2 360.35 384.05 360.61 384.9 361.27 385.75 361.95 386.6 362.04 387.45 362.39 388.3 363.14 389.15 363.83 390 364.51 390.85 365.11 391.7 365.72 392.55 366.29 393.4 367.01 394.25 367.61 395.1 367.65 395.95 367.51 396.8 367.52 397.65 367.8 398.5 368.45 399.35 369.04 400.2 369.11 401.05 369.36 401.9 369.76 402.75 369.83 403.6 369.97 404.45 370.37 405.3 370.69 406.15 370.98 407 371.45 407.85 371.64 408.7 371.6 409.55 371.59 410.4 371.78 411.25 372.26 412.1 372.47 412.95 372.12 413.8 371.74 414.65 372.11 415.5 372.59 416.35 372.48 417.2 372.34 418.05 372.25 418.9 372.19 419.75 372.55 420.6 372.58 421.45 372.21 422.3 372.41 423.15 372.7 424 372.8 424.85 373.23 425.7 373.72 426.55 373.68 427.4 373.2 428.25 373.24 429.1 373.82 429.95 374.15 430.8 374.42 431.65 374.46 432.5 374.26 433.35 374.31 434.2 374.59 435.05 375.03 435.9 375.12 436.75 374.85 437.6 374.93 438.45 374.96 439.3 374.66 440.15 374.58 441 374.64 441.85 374.6 442.7 375.04 443.55 375.75 444.4 375.67 445.25 375.44 446.1 375.91 446.95 376.33 447.8 376.13 448.65 376.01 449.5 375.98 450.35 375.91 451.2 375.82 452.05 375.51 452.9 375.07 453.75 375.06 454.6 375.14 455.45 375.17 456.3 375.48 457.15 375.45 458 375.36 458.85 375.77 459.7 375.82 460.55 375.84 461.4 376.25 462.25 376.12 463.1 376.1 463.95 376.76 464.8 377.03 465.65 376.74 466.5 376.68 467.35 377.04 468.2 377.42 469.05 377.57 469.9 377.59 470.75 377.63 471.6 377.54 472.45 377.09 473.3 376.96 474.15 377.32 475 377.69 475.85 377.85 476.7 377.7 477.55 377.45 478.4 377.21 479.25 376.88 480.1 376.69 480.95 376.85 481.8 377.44 482.65 377.76 483.5 377.54 484.35 377.27 485.2 377.14 486.05 377.06 486.9 376.77 487.75 376.73 488.6 377.1 489.45 377.27 490.3 376.91 491.15 376.58 492 376.88 492.85 377.32 493.7 377.48 494.55 377.54 495.4 377.54 496.25 377.48 497.1 377.49 497.95 377.9 498.8 378.31" stroke-width="1.6" stroke-linejoin="round"/>
<path d="M327.95 377.81h0M328.8 375.54h0M329.65 371.94h0M330.5 366.76h0M331.35 362.64h0M332.2 356.6h0M333.05 350.35h0M333.9 338.9h0M334.75 329.5h0M335.6 321.1h0M336.45 313.45h0M337.3 307.4h0M338.15 301.69h0M339 296.06h0M339.85 291.97h0M340.7 288.53h0M341.55 286.55h0M346.65 286.85h0M347.5 288.22h0M348.35 290.35h0M349.2 292.9h0M350.05 295.65h0M350.9 298.69h0M351.75 301.59h0M352.6 303.82h0M353.45 306.05h0M354.3 308.28h0M355.15 310.53h0M356 312.78h0M356.85 315.04h0M357.7 317.3h0M358.55 319.55h0M359.4 321.81h0M360.25 324.07h0M361.1 326.32h0M361.95 328.58h0M362.8 330.84h0M363.65 332.68h0M364.5 334.14h0M365.35 335.58h0M366.2 337h0M367.05 338.42h0M373 346.97h0M373.85 348.67h0M374.7 350.51h0M375.55 352.35h0M376.4 354.05h0M377.25 355.53h0M378.1 356.78h0" stroke-width="1.55"/>
<path d="M317.75 382.8 318.6 382.79 319.45 382.78 320.3 382.76 321.15 382.75 322 382.74 322.85 382.73 323.7 382.72 324.55 382.71 325.4 382.65 326.25 382.55 327.1 382.45 327.95 382.35 328.8 382.24 329.65 382.14 330.5 381.86 331.35 381.46 332.2 380.68 333.05 379.58M348.35 323.72 349.2 322.67 350.05 322.09 350.9 321.77 351.75 321.54 352.6 321.76 353.45 321.97 354.3 322.19 355.15 322.41 356 323 356.85 323.85 357.7 324.7 358.55 325.55 359.4 326.43 360.25 327.49 361.1 328.56 361.95 329.63 362.8 330.7M373 347.05 373.85 348.17 374.7 349.09 375.55 350.15 376.4 351.06 377.25 352M378.1 353.36 378.95 354.16 379.8 354.56 380.65 355.27 381.5 356.2 382.35 356.96 383.2 357.07 384.05 357.05 384.9 357.46 385.75 357.98 386.6 358.36 387.45 359.03 388.3 359.61 389.15 359.59 390 359.93 390.85 360.75 391.7 360.9 392.55 360.71 393.4 360.93 394.25 361.63 395.1 362.62 395.95 363.26 396.8 363.26 397.65 363.34 398.5 364.11 399.35 364.91 400.2 365.29 401.05 365.74 401.9 365.78 402.75 365.6 403.6 366.16 404.45 366.7 405.3 366.75 406.15 366.91 407 367.13 407.85 367.22 408.7 367.52 409.55 368.15 410.4 368.82 411.25 368.95 412.1 368.71 412.95 368.75 413.8 369.14 414.65 369.88 415.5 370.15 416.35 370.01 417.2 370.29 418.05 370.45 418.9 370.54 419.75 371.03 420.6 371.38 421.45 371.52 422.3 371.31 423.15 371.01 424 371.07 424.85 371.49 425.7 372.29 426.55 372.8 427.4 372.69 428.25 372.27 429.1 372.36 429.95 373.2 430.8 373.43 431.65 373.04 432.5 372.92 433.35 373.12 434.2 373.65 435.05 373.77 435.9 373.31 436.75 373.29 437.6 373.3 438.45 373.27 439.3 373.4 440.15 373.12 441 372.82 441.85 373.05 442.7 373.07 443.55 372.68 444.4 372.79 445.25 373.22 446.1 373.05 446.95 372.67 447.8 372.4 448.65 372.05 449.5 372.16 450.35 372.59 451.2 372.88 452.05 372.83 452.9 372.76 453.75 373.05 454.6 373.47 455.45 373.79 456.3 374.29 457.15 374.29 458 373.72 458.85 373.8 459.7 374.14 460.55 373.98 461.4 374.13 462.25 374.61 463.1 374.56 463.95 374.41 464.8 374.62 465.65 374.46 466.5 373.84 467.35 373.59 468.2 373.8 469.05 373.93 469.9 374.04 470.75 374.32 471.6 374.58 472.45 374.5 473.3 374.03 474.15 373.94 475 374.31 475.85 374.53 476.7 374.24 477.55 374.09 478.4 374.34 479.25 374.42 480.1 374.33 480.95 374.6 481.8 375.03 482.65 375.15 483.5 375.22 484.35 374.96 485.2 374.85 486.05 375.44 486.9 375.81 487.75 375.86 488.6 375.88 489.45 375.51 490.3 375.04 491.15 374.93 492 374.94 492.85 374.86 493.7 374.81 494.55 375.25 495.4 375.65 496.25 375.54 497.1 375.56 497.95 375.52 498.8 375.37" stroke-width="1.6" stroke-linejoin="round"/>
<path d="M333.9 377.54h0M334.75 375.57h0M335.6 373.2h0M336.45 370.51h0M337.3 366.7h0M338.15 363.12h0M339 359.15h0M339.85 352.45h0M340.7 349.1h0M341.55 344.59h0M342.4 340.5h0M343.25 338.25h0M344.1 336.01h0M344.95 331.88h0M345.8 328.57h0M346.65 326.8h0M347.5 325.03h0M363.65 331.99h0M364.5 333.49h0M365.35 334.99h0M366.2 336.49h0M367.05 337.98h0M367.9 339.27h0M368.75 340.57h0M369.6 341.87h0M370.45 343.17h0M371.3 344.45h0M372.15 345.74h0" stroke-width="1.55"/>
<path d="M317.75 382.8 318.6 382.79 319.45 382.78 320.3 382.78 321.15 382.77 322 382.76 322.85 382.75 323.7 382.74 324.55 382.73 325.4 382.73 326.25 382.72 327.1 382.71 327.95 382.7 328.8 382.62 329.65 382.53 330.5 382.44 331.35 382.35 332.2 382.26 333.05 382.17 333.9 382.08 334.75 381.99 335.6 381.76 336.45 381.53 337.3 381.3 338.15 380.89 339 380.48 339.85 380.07 340.7 379.48 341.55 378.85 342.4 378.22 343.25 377.43 344.1 376.55 344.95 375.66M356 356 356.85 355.15 357.7 354.3 358.55 353.45 359.4 352.6 360.25 351.78 361.1 351.04 361.95 350.29 362.8 349.55 363.65 348.81 364.5 348.25 365.35 347.82 366.2 347.47 367.05 347.37 367.9 347.26 368.75 347.16 369.6 347.05 370.45 347.11 371.3 347.33 372.15 347.62 373 348.24 373.85 348.9 374.7 349.34 375.55 349.74 376.4 350.29 377.25 350.87 378.1 351.58 378.95 352.22 379.8 352.5 380.65 353.4M381.5 354.94 382.35 355.59 383.2 355.51 384.05 356.16 384.9 357 385.75 357.4 386.6 357.47 387.45 357.51 388.3 357.88 389.15 358.42 390 358.98 390.85 359.3 391.7 359.59 392.55 359.72 393.4 359.72 394.25 359.78 395.1 359.69 395.95 360.11 396.8 360.84 397.65 361.08 398.5 361.28 399.35 361.38 400.2 361.41 401.05 361.92 401.9 362.31 402.75 362.15 403.6 362.04 404.45 362.12 405.3 362.54 406.15 363.28 407 363.79 407.85 364.05 408.7 364.24 409.55 364.25 410.4 363.92 411.25 363.78 412.1 364.08 412.95 364.73 413.8 365.21 414.65 365.08 415.5 364.92 416.35 364.81 417.2 365 418.05 365.64 418.9 366.05 419.75 366.33 420.6 366.78 421.45 367.11 422.3 367.16 423.15 366.9 424 366.56 424.85 366.75 425.7 367.16 426.55 367 427.4 367.07 428.25 367.54 429.1 367.73 429.95 367.9 430.8 367.94 431.65 367.85 432.5 367.83 433.35 368.04 434.2 368.22 435.05 368.17 435.9 368.31 436.75 368.84 437.6 369.09 438.45 368.8 439.3 368.71 440.15 369.21 441 369.67 441.85 369.82 442.7 369.88 443.55 369.98 444.4 370.21 445.25 370.19 446.1 370.41 446.95 370.96 447.8 371.2 448.65 371.25 449.5 371.35 450.35 371.53 451.2 371.63 452.05 371.78 452.9 372.21 453.75 372.71 454.6 372.85 455.45 372.81 456.3 372.88 457.15 372.86 458 372.76 458.85 372.65 459.7 372.45 460.55 372.47 461.4 372.82 462.25 372.96 463.1 372.9 463.95 372.53 464.8 371.94 465.65 372.11 466.5 372.76 467.35 373.03 468.2 373.13 469.05 372.92 469.9 372.65 470.75 372.92 471.6 373.03 472.45 372.93 473.3 372.73 474.15 372.56 475 372.69 475.85 372.76 476.7 372.68 477.55 372.74 478.4 372.83 479.25 372.72 480.1 372.88 480.95 373.28 481.8 373.24 482.65 373.29 483.5 373.68 484.35 373.74 485.2 373.46 486.05 373.48 486.9 373.63 487.75 373.48 488.6 373.42 489.45 373.75 490.3 373.96 491.15 373.75 492 373.73 492.85 373.64 493.7 373.27 494.55 373.52 495.4 374.21 496.25 374.21 497.1 373.66 497.95 373.74 498.8 374.44" stroke-width="1.6" stroke-linejoin="round"/>
<path d="M345.8 374.4h0M346.65 372.87h0M347.5 371.28h0M348.35 369.48h0M349.2 367.69h0M350.05 365.92h0M350.9 364.5h0M351.75 363.08h0M352.6 361.67h0M353.45 360.25h0M354.3 358.83h0M355.15 357.42h0" stroke-width="1.55"/>
<path d="M317.75 382.8 318.6 382.79 319.45 382.78 320.3 382.78 321.15 382.77 322 382.76 322.85 382.75 323.7 382.74 324.55 382.73 325.4 382.73 326.25 382.72 327.1 382.71 327.95 382.7 328.8 382.69 329.65 382.69 330.5 382.68 331.35 382.67 332.2 382.66 333.05 382.65 333.9 382.65 334.75 382.64 335.6 382.63 336.45 382.62 337.3 382.61 338.15 382.6 339 382.6 339.85 382.59 340.7 382.58 341.55 382.57 342.4 382.56 343.25 382.56 344.1 382.55 344.95 382.54 345.8 382.53 346.65 382.52 347.5 382.52 348.35 382.51 349.2 382.5 350.05 382.49 350.9 382.48 351.75 382.47 352.6 382.47 353.45 382.46 354.3 382.45 355.15 382.44 356 382.43 356.85 382.43 357.7 382.42 358.55 382.41 359.4 382.4 360.25 382.39 361.1 382.39 361.95 382.38 362.8 382.37 363.65 382.36 364.5 382.35 365.35 382.34 366.2 382.34 367.05 382.33 367.9 382.32 368.75 382.31 369.6 382.3 370.45 382.28 371.3 382.25 372.15 382.21 373 382.18 373.85 382.15 374.7 382.11 375.55 382.08 376.4 382.04 377.25 382.01 378.1 381.98 378.95 381.94 379.8 381.91 380.65 381.87 381.5 381.82 382.35 381.78 383.2 381.73 384.05 381.69 384.9 381.65 385.75 381.6 386.6 381.56 387.45 381.51 388.3 381.47 389.15 381.42 390 381.38 390.85 381.34 391.7 381.29 392.55 381.25 393.4 381.22 394.25 381.19 395.1 381.16 395.95 381.13 396.8 381.11 397.65 381.08 398.5 381.05 399.35 381.02 400.2 380.97 401.05 380.87 401.9 380.76 402.75 380.5 403.6 380.37 404.45 380.51 405.3 380.32 406.15 379.97 407 380.03 407.85 380.3 408.7 380.23 409.55 380.02 410.4 380.17 411.25 380.12 412.1 379.79 412.95 379.82 413.8 379.82 414.65 379.63 415.5 379.62 416.35 379.46 417.2 379.12 418.05 379.12 418.9 379.2 419.75 379.34 420.6 379.55 421.45 379.39 422.3 379.27 423.15 379.38 424 379.3 424.85 379.08 425.7 378.99 426.55 379.14 427.4 379.11 428.25 378.91 429.1 379.09 429.95 379.2 430.8 379.08 431.65 378.95 432.5 378.91 433.35 379.06 434.2 379.09 435.05 378.92 435.9 378.69 436.75 378.62 437.6 378.85 438.45 378.8 439.3 378.47 440.15 378.5 441 378.63 441.85 378.48 442.7 378.34 443.55 378.25 444.4 378.15 445.25 378.2 446.1 378.38 446.95 378.53 447.8 378.5 448.65 378.25 449.5 378.23 450.35 378.52 451.2 378.56 452.05 378.46 452.9 378.32 453.75 378.14 454.6 378.07 455.45 378.05 456.3 378.18 457.15 378.11 458 377.87 458.85 377.86 459.7 377.63 460.55 377.35 461.4 377.46 462.25 377.83 463.1 378.14 463.95 378 464.8 377.61 465.65 377.66 466.5 378 467.35 378.07 468.2 377.81 469.05 377.42 469.9 377.19 470.75 377.15 471.6 377.22 472.45 377.46 473.3 377.7 474.15 377.59 475 377.25 475.85 377.19 476.7 377.49 477.55 377.71 478.4 377.69 479.25 377.72 480.1 377.81 480.95 377.78 481.8 377.57 482.65 377.41 483.5 377.53 484.35 377.6 485.2 377.37 486.05 377.35 486.9 377.6 487.75 377.63 488.6 377.48 489.45 377.21 490.3 377.04 491.15 377.18 492 377.24 492.85 377.13 493.7 377.36 494.55 377.68 495.4 377.45 496.25 377.27 497.1 377.47 497.95 377.37 498.8 377.15" stroke-width="1.6" stroke-linejoin="round"/>
</g>
<text x="0" y="0" font-size="14.6" text-anchor="middle" textLength="77.6" lengthAdjust="spacingAndGlyphs" transform="translate(23.3,101) rotate(-90)">Thrombin, nM</text>
<text x="0" y="0" font-size="14.6" text-anchor="middle" textLength="77.6" lengthAdjust="spacingAndGlyphs" transform="translate(281.5,101) rotate(-90)">Thrombin, nM</text>
<text x="0" y="0" font-size="14.6" text-anchor="middle" textLength="77.6" lengthAdjust="spacingAndGlyphs" transform="translate(23.3,319.4) rotate(-90)">Thrombin, nM</text>
<text x="0" y="0" font-size="14.6" text-anchor="middle" textLength="77.6" lengthAdjust="spacingAndGlyphs" transform="translate(281.75,319.4) rotate(-90)">Thrombin, nM</text>
<text x="10.3" y="22.6" font-size="17.6" text-anchor="start" font-weight="bold" >A</text>
<text x="268.9" y="22.6" font-size="17.6" text-anchor="start" font-weight="bold" >B</text>
<text x="10.2" y="245.1" font-size="17.6" text-anchor="start" font-weight="bold" >C</text>
<text x="269.1" y="247.6" font-size="17.6" text-anchor="start" font-weight="bold" >D</text>
<text x="76" y="41.1" font-size="11" text-anchor="start" font-weight="normal" >myosin</text>
<line x1="76" y1="42.2" x2="111" y2="42.2" stroke="#000" stroke-width="1.05"/>
<text x="96.3" y="59.9" font-size="11" text-anchor="start" font-weight="normal" >100 nM</text>
<text x="111.6" y="94.5" font-size="11" text-anchor="start" font-weight="normal" >50 nM</text>
<text x="137" y="117.6" font-size="11" text-anchor="start" font-weight="normal" >25 nM</text>
<text x="106.3" y="157.4" font-size="11" text-anchor="start" font-weight="normal" >none</text>
<text x="201.8" y="46.5" font-size="11" text-anchor="start" font-weight="normal" >PRP</text>
<text x="170.6" y="82" font-size="11" text-anchor="start" font-weight="normal" textLength="82.5" lengthAdjust="spacingAndGlyphs">0.5 pM TF + CTI</text>
<text x="337.5" y="47.4" font-size="11" text-anchor="start" font-weight="normal" >myosin</text>
<line x1="337.5" y1="48.5" x2="372.5" y2="48.5" stroke="#000" stroke-width="1.05"/>
<text x="353.4" y="66.5" font-size="11" text-anchor="start" font-weight="normal" >100 nM</text>
<text x="372.5" y="103.2" font-size="11" text-anchor="start" font-weight="normal" >50 nM</text>
<text x="344.2" y="130.5" font-size="11" text-anchor="start" font-weight="normal" >25 nM</text>
<text x="356.5" y="151.9" font-size="11" text-anchor="start" font-weight="normal" >none</text>
<text x="468" y="47.4" font-size="11" text-anchor="start" font-weight="normal" >PPP</text>
<text x="424" y="83" font-size="11" text-anchor="start" font-weight="normal" textLength="82.5" lengthAdjust="spacingAndGlyphs">0.5 pM TF + CTI</text>
<text x="99.2" y="272.8" font-size="11" text-anchor="start" font-weight="normal" >myosin</text>
<line x1="99.2" y1="273.9" x2="134.2" y2="273.9" stroke="#000" stroke-width="1.05"/>
<text x="98.1" y="295.9" font-size="11" text-anchor="start" font-weight="normal" >100 nM</text>
<text x="112.2" y="322.1" font-size="11" text-anchor="start" font-weight="normal" >50 nM</text>
<text x="122.8" y="338.8" font-size="11" text-anchor="start" font-weight="normal" >25 nM</text>
<text x="98.1" y="372" font-size="11" text-anchor="start" font-weight="normal" >none</text>
<text x="200.5" y="272.2" font-size="11" text-anchor="start" font-weight="normal" >PRP</text>
<text x="184.7" y="300.50" font-size="11">only Ca<tspan font-size="8" dy="-4.5">++</tspan></text>
<text x="350.5" y="268.6" font-size="11" text-anchor="start" font-weight="normal" >myosin</text>
<line x1="350.5" y1="269.7" x2="385.5" y2="269.7" stroke="#000" stroke-width="1.05"/>
<text x="353" y="291.7" font-size="11" text-anchor="start" font-weight="normal" >100 nM</text>
<text x="364.8" y="325" font-size="11" text-anchor="start" font-weight="normal" >50 nM</text>
<text x="383" y="350.9" font-size="11" text-anchor="start" font-weight="normal" >25 nM</text>
<text x="361" y="378.8" font-size="11" text-anchor="start" font-weight="normal" >none</text>
<text x="468" y="265.9" font-size="11" text-anchor="start" font-weight="normal" >PPP</text>
<text x="446.4" y="310.50" font-size="11">only Ca<tspan font-size="8" dy="-4.5">++</tspan></text>
</svg></body></html>
